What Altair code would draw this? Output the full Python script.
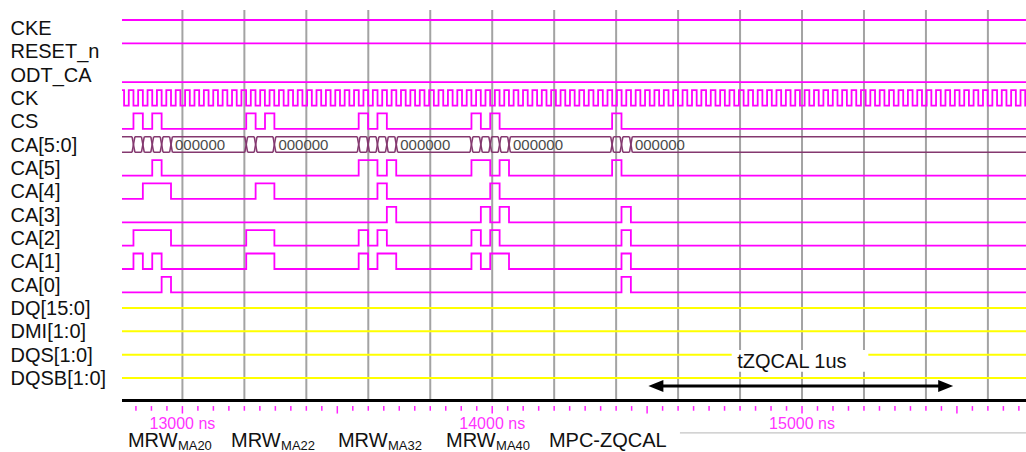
import json
import altair as alt
import pandas as pd

# ---------------- data ----------------
signals = ["CKE", "RESET_n", "ODT_CA", "CK", "CS", "CA[5:0]", "CA[5]", "CA[4]",
           "CA[3]", "CA[2]", "CA[1]", "CA[0]", "DQ[15:0]", "DMI[1:0]", "DQS[1:0]", "DQSB[1:0]"]
const_levels = {"CKE": 1, "RESET_n": 1, "ODT_CA": 0}
z_rows = ["DQ[15:0]", "DMI[1:0]", "DQS[1:0]", "DQSB[1:0]"]

T_START, T_END = 12805, 15723          # visible time window (ns)
CK_PERIOD = 30.3                        # ns

cmd_start = [12842, 13206, 13569, 13933, 14387]
cmd_cs = [[1, 0, 1, 0], [1, 0, 1, 0], [1, 0, 1, 0], [1, 0, 1, 0], [1, 0]]
cmd_ca = [["000110", "010100", "110110", "010101"],
          ["000110", "010110", "010110", "000000"],
          ["100110", "100000", "010110", "101010"],
          ["100110", "101000", "010110", "101010"],
          ["100000", "001111"]]
cmd_label = ["MRW", "MRW", "MRW", "MRW", "MPC-ZQCAL"]
cmd_sub = ["MA20", "MA22", "MA32", "MA40", ""]
cmd_label_t = [12824, 13157, 13502, 13851, 14183]

grid_t = list(range(13000, 15800, 200))
tick_t = list(range(12850, 15723, 50))
tick_label_t = [13000, 14000, 15000]
tzq_from, tzq_to = 14504, 15488
tzq_text = "tZQCAL 1us"

# ---------------- layout constants (row units) ----------------
AMP = 0.664            # high level offset above row baseline
U0, U1 = -1.5203, 17.8373
FONT = "Liberation Sans"
MAG = "#ff00ff"
YEL = "#ffff00"


def lvl(row, level):
    return row - AMP * level


# ---------------- build waveforms ----------------
wave = []


def add_wave(name, changes):
    row = signals.index(name)
    comp = []
    for t, v in changes:
        if comp and comp[-1][1] == v:
            continue
        comp.append((t, v))
    comp.append((T_END, comp[-1][1]))
    for i, (t, v) in enumerate(comp):
        wave.append({"sig": name, "t": t, "u": lvl(row, v), "i": i})


for name, v in const_levels.items():
    add_wave(name, [(T_START, v)])

# clock: CS changes on falling edges
edges = []
j = -10
while True:
    e = cmd_start[0] + j * CK_PERIOD / 2
    if e > T_END:
        break
    edges.append((e, 1 if j % 2 else 0))
    j += 1
ck = []
prev = 0
for e, v in edges:
    if e < T_START:
        prev = v
        continue
    if not ck:
        ck.append((T_START, prev))
    ck.append((e, v))
add_wave("CK", ck)

bus = [(T_START, "000000")]
cs = [(T_START, 0)]
for s, css, cas in zip(cmd_start, cmd_cs, cmd_ca):
    for k, (c, v) in enumerate(zip(css, cas)):
        t = s + k * CK_PERIOD
        bus.append((t, v))
        cs.append((t, c))
    t = s + len(cas) * CK_PERIOD
    bus.append((t, "000000"))
    cs.append((t, 0))
add_wave("CS", cs)
for b in range(5, -1, -1):
    add_wave(f"CA[{b}]", [(t, int(v[5 - b])) for t, v in bus])

wave_df = pd.DataFrame(wave)

zdf = []
for name in z_rows:
    row = signals.index(name)
    zdf.append({"sig": name, "t": T_START, "u": lvl(row, 0.5)})
    zdf.append({"sig": name, "t": T_END, "u": lvl(row, 0.5)})
zdf = pd.DataFrame(zdf)

# bus segments
bcomp = []
for t, v in bus:
    if bcomp and bcomp[-1][1] == v:
        continue
    bcomp.append((t, v))
brow = signals.index("CA[5:0]")
hi, lo = lvl(brow, 1), lvl(brow, 0)
D = 4.5
seg = []
texts = []
for k, (t, v) in enumerate(bcomp):
    t2 = bcomp[k + 1][0] if k + 1 < len(bcomp) else T_END
    a = t + (D if k > 0 else 0)
    b = t2 - (D if k + 1 < len(bcomp) else 0)
    seg.append({"x": a, "x2": b, "y": hi, "y2": hi})
    seg.append({"x": a, "x2": b, "y": lo, "y2": lo})
    if k > 0:
        seg.append({"x": t - D, "x2": t + D, "y": hi, "y2": lo})
        seg.append({"x": t - D, "x2": t + D, "y": lo, "y2": hi})
    if t2 - t > 100:
        texts.append({"t": t, "u": brow - 0.096, "txt": v})
seg_df = pd.DataFrame(seg)
text_df = pd.DataFrame(texts)

# ---------------- encodings ----------------
xscale = alt.Scale(domain=[T_START, T_END], nice=False, zero=False)
yscale = alt.Scale(domain=[U0, U1], reverse=True, nice=False, zero=False)
yaxis = alt.Axis(values=[i - 0.05 for i in range(len(signals))],
                 labelExpr=json.dumps(signals) + "[round(datum.value + 0.05)]",
                 labelAlign="left", labelBaseline="alphabetic", labelPadding=112,
                 ticks=False, domain=False, grid=False, title="",
                 labelFontSize=20, labelFont=FONT, labelColor="#111111",
                 labelOverlap=False, labelBound=False, labelFlush=False)


def X(f):
    return alt.X(f, type="quantitative", scale=xscale, axis=None)


def Y(f):
    return alt.Y(f, type="quantitative", scale=yscale, axis=yaxis)


U_GRID_TOP = -1.092
U_AXIS = 15.632

grid = alt.Chart(pd.DataFrame({"t": grid_t})).transform_calculate(
    a=str(U_GRID_TOP), b=str(U_AXIS)
).mark_rule(color="#a3a3a3", strokeWidth=2).encode(x=X("t"), y=Y("a"), y2="b")

yellow = alt.Chart(zdf).mark_line(color=YEL, strokeWidth=2).encode(
    x=X("t"), y=Y("u"), detail="sig:N")

magenta = alt.Chart(wave_df).mark_line(
    color=MAG, strokeWidth=1.8, interpolate="step-after").encode(
    x=X("t"), y=Y("u"), detail="sig:N", order="i:Q")

bus_lines = alt.Chart(seg_df).mark_rule(color="#84386f", strokeWidth=1.5).encode(
    x=X("x"), x2="x2", y=Y("y"), y2="y2")

bus_text = alt.Chart(text_df).mark_text(
    align="left", baseline="alphabetic", dx=4, font=FONT, fontSize=15,
    color="#4a4a4a").encode(x=X("t"), y=Y("u"), text="txt:N")

# tZQCAL annotation
box = alt.Chart(pd.DataFrame({"a": [14773], "b": [15214], "u1": [13.47], "u2": [14.40]})).mark_rect(
    color="white").encode(x=X("a"), x2="b", y=Y("u1"), y2="u2")
tzq_label = alt.Chart(pd.DataFrame({"t": [14791], "u": [14.25], "txt": [tzq_text]})).mark_text(
    align="left", baseline="alphabetic", font=FONT, fontSize=20, color="#111111").encode(
    x=X("t"), y=Y("u"), text="txt:N")
U_ARROW = 15.01
HEAD = 40
shaft = alt.Chart(pd.DataFrame({"a": [tzq_from + HEAD], "b": [tzq_to - HEAD], "u": [U_ARROW]})).mark_rule(
    color="black", strokeWidth=3).encode(x=X("a"), x2="b", y=Y("u"))
heads = alt.Chart(pd.DataFrame({"t": [tzq_from, tzq_to], "u": [U_ARROW] * 2,
                                "s": ["M0,0L2,-0.8L2,0.8Z", "M0,0L-2,-0.8L-2,0.8Z"]})).mark_point(
    filled=True, color="black", opacity=1, size=225, strokeWidth=0).encode(
    x=X("t"), y=Y("u"), shape=alt.Shape("s:N", scale=None))

# time axis
axis_line = alt.Chart(pd.DataFrame({"a": [T_START], "b": [T_END], "u": [U_AXIS]})).mark_rule(
    color="black", strokeWidth=3).encode(x=X("a"), x2="b", y=Y("u"))
tick_df = pd.DataFrame({"t": tick_t})
tick_df["major"] = tick_df["t"] % 500 == 0
tick_df["a"] = 15.87
tick_df["b"] = tick_df["major"].map({True: 16.19, False: 16.07})
ticks = alt.Chart(tick_df).mark_rule(color="#ff22ff", strokeWidth=1.5).encode(
    x=X("t"), y=Y("a"), y2="b")
tick_labels = alt.Chart(pd.DataFrame({"t": tick_label_t, "u": [16.86] * 3,
                                      "txt": [f"{v} ns" for v in tick_label_t]})).mark_text(
    align="center", baseline="alphabetic", font=FONT, fontSize=16, color="#ff33ff").encode(
    x=X("t"), y=Y("u"), text="txt:N")

lab_df = pd.DataFrame({"t": cmd_label_t, "u": [17.64] * 5, "txt": cmd_label, "sub": cmd_sub,
                       "us": [17.76] * 5})
cmd_text = alt.Chart(lab_df).mark_text(
    align="left", baseline="alphabetic", font=FONT, fontSize=20, color="#111111").encode(
    x=X("t"), y=Y("u"), text="txt:N")
cmd_subtext = alt.Chart(lab_df).mark_text(
    align="left", baseline="alphabetic", font=FONT, fontSize=13, color="#111111", dx=50).encode(
    x=X("t"), y=Y("us"), text="sub:N")
sep = alt.Chart(pd.DataFrame({"a": [14606], "b": [T_END], "u": [17.02]})).mark_rule(
    color="#b5b5b5", strokeWidth=1).encode(x=X("a"), x2="b", y=Y("u"))

chart = alt.layer(
    grid, yellow, magenta, bus_lines, bus_text, box, tzq_label, shaft, heads,
    axis_line, ticks, tick_labels, cmd_text, cmd_subtext, sep
).properties(
    width=904, height=452,
    padding={"left": 122, "top": 0, "right": 0, "bottom": 0},
    autosize=alt.AutoSizeParams(type="none"),
    background="white",
).configure_view(stroke=None)

chart.save("out.html", embed_options={"renderer": "svg", "actions": False})
